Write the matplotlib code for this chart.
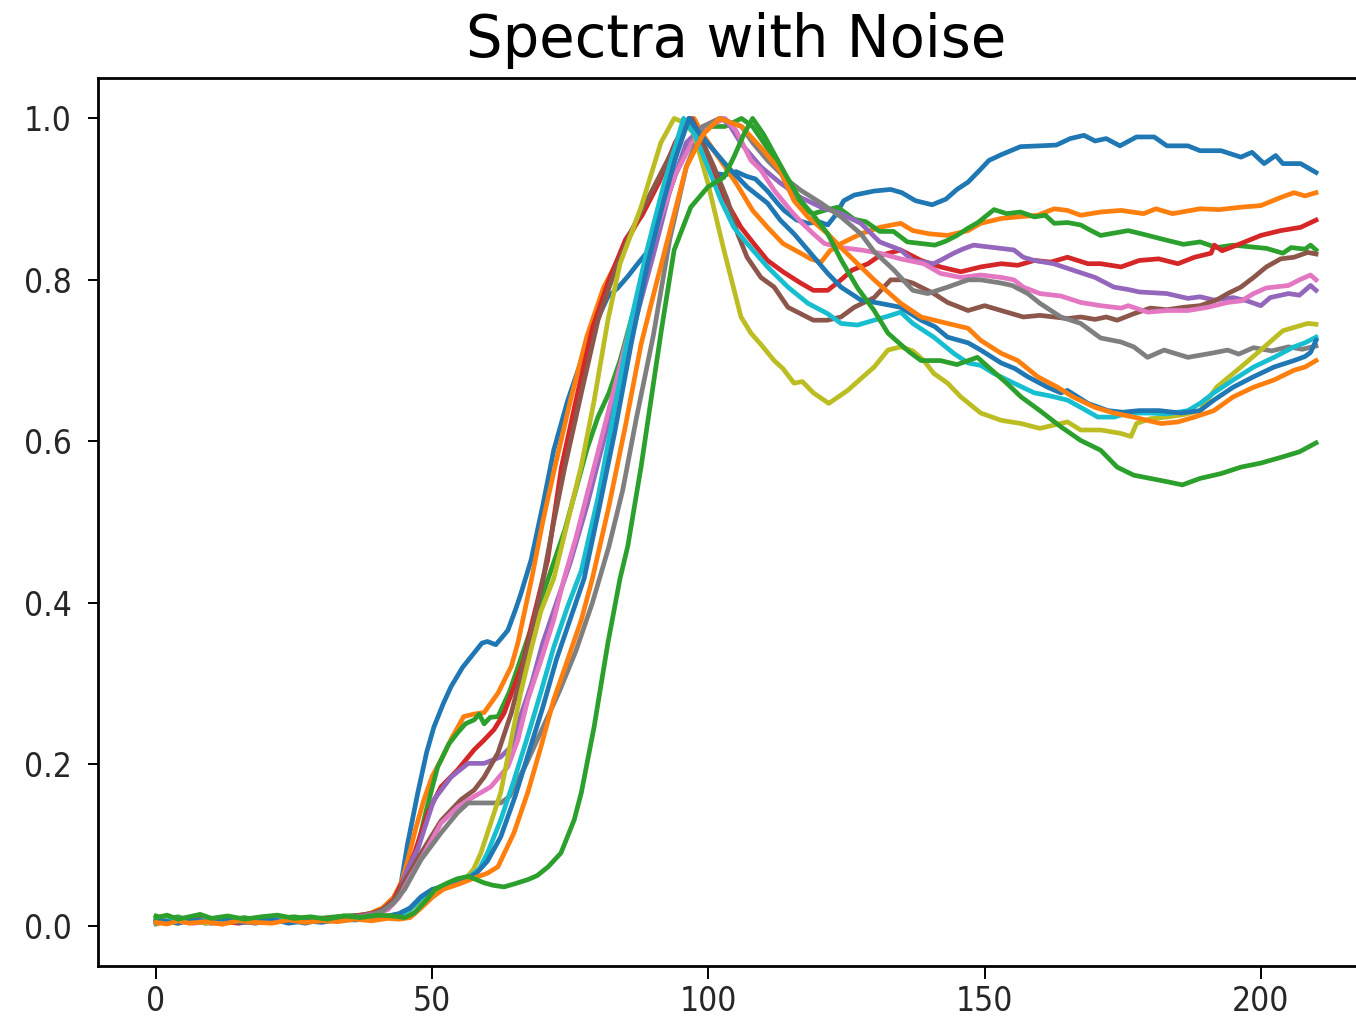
import matplotlib.pyplot as plt

# each spectrum: (channel, normalised intensity)
blue_1 = [(0, .004), (2, .009), (4, .005), (6, .007), (9, .003), (12, .008), (15, .006), (18, .009),
          (21, .004), (24, .007), (27, .003), (30, .008), (33, .010), (36, .011), (39, .014), (41, .018),
          (43, .030), (44.3, .05), (45.5, .10), (47.4, .165), (49, .215), (50.3, .246), (52, .275),
          (53.4, .296), (55.5, .32), (57.6, .338), (59, .35), (60, .352), (61.5, .348), (63, .36),
          (63.7, .366), (65, .39), (66, .41), (67.9, .453), (70, .52), (72, .589), (74.5, .65), (77, .70),
          (79.5, .745), (81.8, .779), (83.6, .79), (85.5, .805), (87.2, .82), (89.6, .84), (91, .87),
          (92.5, .91), (94.5, .965), (96.5, 1.0), (98, .985), (99.5, .955), (101, .932), (103, .93),
          (105, .934), (107, .928), (108.5, .925), (110.7, .91), (112.5, .895), (113.7, .886), (116, .874),
          (118, .87), (120, .872), (121.6, .868), (123, .88), (124.5, .898), (126.4, .905), (130, .91),
          (133, .912), (135, .908), (137.5, .898), (140.5, .893), (143, .90), (145, .912), (147, .921),
          (149, .935), (150.8, .948), (153, .955), (156.5, .965), (160, .966), (163, .967), (165.5, .975),
          (168, .979), (170, .972), (172, .975), (174.5, .966), (177.5, .977), (180.7, .977), (183, .966),
          (186.8, .966), (189, .96), (192.8, .96), (196.4, .952), (198.4, .958), (200.6, .944),
          (202.7, .954), (204, .944), (207.2, .944), (210, .933)]

orange_1 = [(0, .002), (2, .006), (4, .003), (6, .008), (9, .004), (12, .002), (15, .007), (18, .004),
            (21, .008), (24, .005), (27, .009), (30, .006), (33, .011), (36, .010), (39, .016), (41, .022),
            (43, .035), (44.5, .055), (45.6, .082), (47, .12), (48.5, .156), (50, .185), (51.6, .205),
            (53.5, .232), (55.7, .259), (57.5, .262), (59.4, .264), (61.9, .288), (64.3, .321), (65.5, .35),
            (68, .43), (70, .50), (72.2, .568), (75, .65), (78, .73), (81, .79), (84, .83), (87, .87),
            (90, .91), (93, .95), (95.5, .99), (97.4, 1.0), (99, .98), (102, .95), (105, .92), (108, .886),
            (110.7, .865), (113.5, .845), (116.7, .833), (118.5, .826), (120.4, .822), (122, .836),
            (124, .845), (127.6, .857), (131, .865), (134.8, .87), (137, .861), (140, .857), (143.3, .855),
            (147, .861), (149.3, .87), (153, .876), (156, .878), (159.6, .88), (162.6, .888), (165, .886),
            (167.4, .88), (171, .884), (174.7, .886), (178.8, .882), (181, .888), (184, .882), (189, .888),
            (192.5, .887), (196.4, .89), (200, .892), (203.6, .902), (206, .908), (208, .904), (210, .908)]

green_1 = [(0, .012), (2, .008), (4, .011), (6, .006), (8, .013), (10, .009), (13, .007), (16, .010),
           (19, .006), (22, .009), (25, .011), (28, .008), (31, .010), (34, .012), (37, .013), (40, .016),
           (42, .022), (44, .04), (46.8, .082), (49, .145), (51, .197), (53, .225), (54.6, .239), (56, .25),
           (57.6, .255), (58.5, .262), (59.4, .25), (60.5, .258), (61.9, .259), (64, .29), (66, .33),
           (68, .37), (70, .41), (72, .45), (74, .49), (76, .54), (78, .59), (80, .63), (82, .66), (84, .70),
           (86, .75), (88, .80), (90, .85), (92, .89), (94, .93), (96, .96), (98, .98), (100, .99),
           (103, .99), (106, 1.0), (108, .99), (110, .97), (112, .95), (114, .92), (115.5, .90),
           (117, .888), (119, .882), (121, .886), (123.4, .89), (126.4, .875), (128.5, .872), (131, .86),
           (133.5, .86), (136, .847), (138.5, .845), (141, .843), (143, .848), (145, .855), (147, .864),
           (148.8, .871), (151.7, .887), (154, .882), (156.5, .884), (159, .878), (161, .88), (162.6, .87),
           (165, .871), (167.4, .868), (169, .862), (171, .855), (173.5, .858), (176, .861), (179, .856),
           (183, .849), (186, .844), (189, .847), (192, .84), (195, .843), (198, .841), (201, .839),
           (204, .833), (205.5, .84), (208, .838), (209, .843), (210, .837)]

red = [(0, .005), (2, .003), (4, .007), (6, .004), (9, .008), (12, .005), (15, .003), (18, .007),
       (21, .005), (24, .008), (27, .006), (30, .009), (33, .008), (36, .012), (39, .015), (41, .02),
       (43, .032), (45, .06), (46.8, .09), (49.2, .14), (51.6, .172), (54.6, .193), (57.6, .218),
       (59.4, .23), (61.2, .243), (63, .263), (64.8, .296), (66.6, .329), (67.9, .37), (69.7, .42),
       (70.9, .453), (73.4, .568), (76, .65), (79, .74), (82, .80), (85, .85), (88, .88), (91, .92),
       (94, .97), (96.5, 1.0), (99, .96), (101, .93), (103, .90), (105.9, .865), (108.2, .845),
       (110.7, .824), (113.5, .81), (116.7, .796), (119, .787), (121.6, .787), (124, .80), (126, .812),
       (128.9, .82), (131, .83), (134.8, .837), (138.5, .824), (142, .816), (145.7, .81), (149.3, .816),
       (153, .82), (156, .818), (159, .824), (162, .822), (165, .828), (168.7, .82), (171, .82),
       (174.7, .816), (178, .824), (181.5, .826), (185, .82), (188, .828), (191, .833), (191.6, .843),
       (193, .836), (196.4, .845), (200, .855), (203.6, .861), (207.2, .865), (210, .874)]

purple = [(0, .006), (2, .004), (4, .008), (7, .005), (10, .003), (13, .007), (16, .004), (19, .006),
          (22, .009), (25, .005), (28, .008), (31, .006), (34, .010), (37, .012), (40, .016), (42, .022),
          (44, .04), (45.5, .07), (47.4, .095), (50.3, .156), (53.4, .184), (56.5, .201), (59.4, .201),
          (62.4, .209), (64.3, .222), (66, .26), (68, .30), (70, .35), (72, .39), (75, .45), (78, .52),
          (81, .60), (84, .68), (87.8, .775), (90, .83), (93, .91), (96, .97), (99, .99), (101, .995),
          (102.5, 1.0), (104, .99), (105.9, .969), (109.5, .94), (113, .92), (116.7, .902), (120.4, .89),
          (124, .882), (127.6, .87), (131, .847), (134.8, .837), (137, .824), (140.8, .82), (142.5, .826),
          (144.4, .833), (146, .838), (148, .843), (151.7, .84), (155.3, .837), (157, .828), (159, .824),
          (162.5, .82), (166, .812), (170, .803), (173.4, .791), (176, .788), (178, .785), (183, .783),
          (186.8, .777), (189, .779), (191.5, .775), (195, .778), (197.5, .774), (200, .768),
          (201.7, .778), (205, .783), (207, .781), (209, .793), (210, .787)]

brown = [(0, .003), (2, .007), (4, .004), (6, .006), (9, .009), (12, .004), (15, .006), (18, .003),
         (21, .007), (24, .004), (27, .008), (30, .005), (33, .009), (36, .011), (39, .014), (41, .02),
         (43, .03), (45, .055), (48, .09), (51.6, .13), (55.2, .156), (57.6, .168), (59.4, .184),
         (61.9, .214), (64.3, .263), (66, .308), (67.9, .362), (69.7, .416), (72, .50), (74, .568),
         (77, .66), (80, .75), (83, .81), (86, .86), (89, .90), (92, .94), (95, .98), (97, 1.0), (99, .97),
         (101, .94), (103.5, .898), (105.3, .857), (107, .828), (109.5, .803), (111.9, .791),
         (114.4, .766), (116.7, .758), (119, .75), (121.5, .75), (124, .754), (126.4, .766), (130, .778),
         (133, .80), (135, .80), (137, .796), (140.8, .783), (143.3, .772), (147, .762), (150, .768),
         (154, .76), (157, .754), (160, .756), (162.6, .754), (165, .752), (167.4, .754), (170, .751),
         (172, .754), (174, .75), (177, .758), (180, .765), (183, .763), (186, .766), (189, .768),
         (192, .775), (194, .783), (196.4, .791), (198.7, .803), (201, .816), (203.6, .826), (206, .828),
         (208.5, .834), (210, .832)]

pink = [(0, .004), (2, .008), (4, .005), (7, .003), (10, .007), (13, .005), (16, .008), (19, .004),
        (22, .006), (25, .009), (28, .005), (31, .007), (34, .009), (37, .011), (40, .015), (42, .02),
        (44, .035), (46, .06), (48.6, .09), (51.6, .127), (54.6, .147), (57.6, .16), (60.6, .172),
        (63.7, .197), (65.5, .23), (67.3, .28), (69.7, .329), (72, .379), (73.8, .428), (76, .48),
        (79, .56), (82, .64), (85, .72), (88, .80), (91, .87), (94, .93), (97, .97), (100, .99), (103, 1.0),
        (105, .985), (107.7, .948), (109.5, .936), (112, .91), (115, .885), (117, .87), (119, .857),
        (121, .845), (124, .84), (127.6, .837), (131, .833), (134.8, .826), (139, .82), (142, .808),
        (145.7, .803), (149.3, .806), (153, .803), (155.3, .80), (157, .791), (160, .783), (163.8, .78),
        (167.4, .772), (171, .768), (174.7, .765), (176, .768), (179.5, .76), (183, .762), (186.8, .762),
        (190.4, .766), (194, .772), (196.5, .774), (198.7, .783), (201, .79), (205, .793), (207, .80),
        (209, .806), (210, .80)]

gray = [(0, .007), (2, .004), (4, .009), (6, .005), (9, .006), (12, .009), (15, .005), (18, .008),
        (21, .004), (24, .007), (27, .009), (30, .006), (33, .010), (36, .011), (39, .013), (41, .018),
        (43, .028), (45, .045), (48, .082), (51.6, .115), (54.6, .14), (56.5, .152), (59.4, .152),
        (62.4, .152), (64, .16), (67, .20), (70, .245), (73, .29), (76, .34), (79, .40), (82, .47),
        (84.5, .54), (87, .63), (90, .73), (93, .85), (96, .94), (99, .99), (102, 1.0), (104, .995),
        (106, .99), (108, .97), (110.7, .948), (114.4, .923), (116.7, .911), (120.4, .895), (124, .878),
        (127.6, .857), (130, .835), (133.6, .812), (134.8, .803), (137, .787), (139.7, .783),
        (143.3, .791), (147, .80), (149.3, .80), (153, .796), (155, .793), (157.8, .783), (160, .771),
        (163.8, .754), (167.4, .746), (171, .728), (174.7, .723), (177, .717), (179.5, .704),
        (182.5, .713), (186.8, .704), (191, .709), (194, .713), (196, .708), (198.7, .716), (202, .712),
        (205, .717), (207.5, .714), (210, .718)]

olive = [(0, .005), (2, .008), (4, .004), (6, .007), (9, .003), (12, .006), (15, .009), (18, .005),
         (21, .007), (24, .004), (27, .008), (30, .005), (33, .007), (36, .009), (39, .010), (42, .012),
         (44, .014), (46, .02), (48, .032), (50, .042), (52, .048), (54, .052), (56, .058), (57.5, .07),
         (58.8, .09), (60.5, .125), (62.4, .165), (64, .22), (66, .288), (68, .345), (69.7, .39), (72, .43),
         (74.5, .50), (77, .57), (79.3, .65), (81.8, .75), (84, .82), (87.8, .89), (91.4, .97),
         (93.8, 1.0), (95.5, .995), (97.4, .981), (99.9, .92), (102.8, .837), (105.9, .754),
         (107.7, .734), (109.5, .72), (111.9, .70), (113.5, .69), (115.5, .672), (117, .674), (119, .66),
         (121.8, .647), (123.5, .655), (125.2, .663), (128, .68), (130, .692), (132.5, .713),
         (134.8, .717), (137, .712), (139, .70), (140.8, .684), (143.3, .672), (145.7, .655),
         (147.5, .645), (149.3, .635), (153, .626), (156.6, .622), (160, .616), (162.5, .62), (165, .624),
         (167.4, .614), (171, .614), (174.5, .61), (176.5, .606), (177.5, .622), (180, .628), (183, .63),
         (186, .633), (189, .638), (192, .667), (196.4, .692), (200, .713), (204, .737), (208.5, .746),
         (210, .745)]

cyan = [(0, .003), (2, .006), (4, .009), (6, .004), (9, .007), (12, .005), (15, .008), (18, .004),
        (21, .006), (24, .009), (27, .005), (30, .007), (33, .006), (36, .008), (39, .009), (42, .011),
        (44, .013), (46, .02), (48, .034), (50, .044), (52, .05), (55, .055), (57, .062), (58.5, .07),
        (60, .09), (62.4, .131), (64.8, .18), (67.3, .235), (69.7, .29), (72, .345), (74.5, .395),
        (77, .44), (80, .53), (83, .64), (86, .75), (89, .84), (92, .92), (94, .965), (95.5, 1.0),
        (97.5, .98), (99.9, .94), (102.3, .898), (104.6, .865), (107, .845), (110.7, .816),
        (114.4, .791), (118, .771), (121.6, .758), (124, .746), (127, .744), (130, .75), (133, .756),
        (134.8, .76), (137, .746), (140.8, .729), (144.4, .709), (147, .697), (149.3, .694),
        (151.7, .684), (155.3, .672), (159, .66), (162, .656), (165, .651), (167.4, .642), (170.5, .63),
        (173.4, .63), (176, .635), (180, .635), (183, .634), (186.8, .638), (189, .647), (191.5, .66),
        (195, .676), (198.7, .692), (202.4, .704), (206, .717), (208, .722), (210, .729)]

blue_2 = [(0, .008), (2, .005), (4, .003), (6, .007), (9, .005), (12, .009), (15, .004), (18, .006),
          (21, .008), (24, .003), (27, .006), (30, .004), (33, .008), (36, .007), (39, .009), (42, .012),
          (44, .015), (46, .022), (48, .036), (50, .045), (52, .048), (55, .053), (58, .065), (60, .08),
          (62.4, .11), (65, .16), (67.5, .215), (70, .27), (72.5, .33), (75, .38), (77.5, .43), (80, .51),
          (83, .61), (86, .72), (89, .82), (92, .90), (94, .95), (96.5, 1.0), (98, .985), (99.9, .969),
          (103.5, .94), (107, .915), (110.7, .895), (113, .874), (115.5, .857), (118, .837),
          (121.6, .808), (124, .791), (127.6, .775), (131, .771), (134.8, .766), (138.5, .75), (141, .742),
          (143.3, .729), (147, .722), (149.3, .713), (153, .697), (155.5, .69), (157.8, .68),
          (161.4, .667), (163.8, .66), (165, .663), (168.7, .647), (172.3, .638), (175, .636), (178, .638),
          (181.6, .638), (185.5, .635), (189, .638), (191.5, .651), (195, .667), (198.7, .68),
          (202.4, .692), (206, .70), (208, .705), (209, .71), (210, .725)]

orange_2 = [(0, .004), (2, .002), (4, .006), (6, .003), (9, .005), (12, .002), (15, .006), (18, .004),
            (21, .003), (24, .007), (27, .004), (30, .006), (33, .005), (36, .008), (39, .006), (42, .009),
            (44, .008), (46, .01), (48, .022), (50, .035), (52, .045), (55, .052), (58, .06), (60, .065),
            (61.9, .073), (64.8, .115), (67.3, .165), (69.7, .222), (72, .28), (74.5, .329), (77, .379),
            (79, .43), (82, .52), (85, .62), (87.8, .72), (90, .78), (93, .86), (96, .94), (99, .98),
            (102, 1.0), (104, .995), (106, .99), (108, .975), (110, .96), (113, .935), (115.5, .898),
            (118, .878), (121.6, .857), (124, .84), (126.4, .824), (130, .80), (134.8, .771),
            (138.5, .754), (143.3, .746), (147, .74), (149.3, .725), (153, .709), (156, .70),
            (159.6, .68), (163.2, .667), (166, .655), (170, .642), (173.4, .635), (177, .63), (180, .625),
            (182, .622), (185, .624), (188, .63), (191.5, .638), (195, .655), (198.7, .667),
            (202.4, .676), (206, .688), (208, .692), (210, .70)]

green_2 = [(0, .010), (2, .013), (4, .008), (6, .011), (8, .014), (10, .009), (13, .012), (16, .008),
           (19, .011), (22, .013), (25, .009), (28, .011), (31, .008), (34, .012), (37, .010), (40, .013),
           (43, .012), (45, .01), (46.8, .016), (49, .032), (50.5, .045), (52.8, .053), (54.5, .058),
           (56.5, .061), (58, .057), (59.4, .053), (61, .05), (63, .048), (65, .052), (67.3, .057),
           (69, .062), (71, .073), (73.3, .09), (75.7, .131), (77, .165), (79.3, .246), (81.8, .35),
           (84, .43), (85.4, .47), (87.8, .568), (89.6, .651), (91.4, .734), (93.8, .837), (96.8, .89),
           (99.9, .915), (102.8, .927), (104.6, .952), (106.4, .98), (108, 1.0), (110, .98), (112, .955),
           (114, .93), (116.7, .898), (119, .88), (121.6, .857), (124, .825), (127, .79), (130, .762),
           (132.5, .734), (134.8, .72), (136.5, .71), (138.5, .70), (142, .70), (145, .695), (148.7, .704),
           (151, .69), (154, .672), (156.6, .655), (160, .638), (163.8, .618), (167.4, .601), (171, .589),
           (174, .568), (177, .558), (180, .554), (183, .55), (185.8, .546), (189, .554), (192.8, .56),
           (196.4, .568), (200, .573), (203.6, .58), (207, .587), (210, .598)]

spectra = [blue_1, orange_1, green_1, red, purple, brown, pink, gray, olive, cyan,
           blue_2, orange_2, green_2]

plt.rcParams['font.family'] = ['DejaVu Sans']
plt.rcParams['font.stretch'] = 'condensed'

fig = plt.figure(figsize=(13.56, 10.16), dpi=100)
ax = fig.add_axes([0.0723, 0.0492, 0.941, 0.874])

for s in spectra:
    xs = [p[0] for p in s]
    ys = [p[1] for p in s]
    ax.plot(xs, ys, lw=3.4)

ax.set_xlim(-10.5, 220.5)
ax.set_ylim(-0.05, 1.05)
ax.set_xticks([0, 50, 100, 150, 200])
ax.set_yticks([0.0, 0.2, 0.4, 0.6, 0.8, 1.0])
ax.set_yticklabels(['0.0', '0.2', '0.4', '0.6', '0.8', '1.0'])
ax.tick_params(axis='y', length=7, width=1.4, pad=12, labelsize=24, labelcolor='#262626')
ax.tick_params(axis='x', length=9, width=1.4, pad=5, labelsize=24, labelcolor='#262626')
for sp in ax.spines.values():
    sp.set_linewidth(2)

ax.set_title('Spectra with Noise', fontsize=41.5, pad=15, fontstretch='normal')

fig.savefig('out.png', dpi=100)
